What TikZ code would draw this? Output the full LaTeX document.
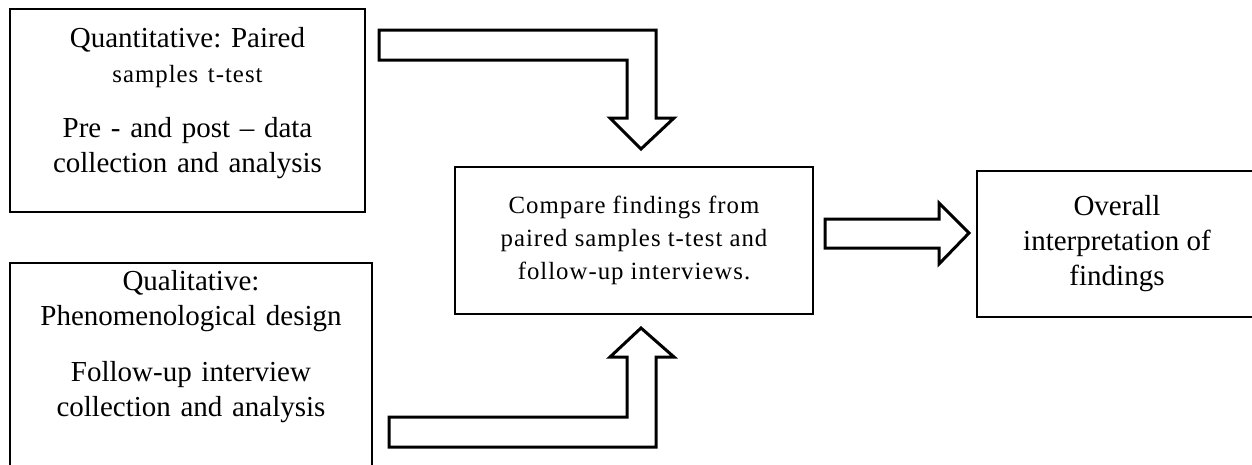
\documentclass[tikz,border=0pt]{standalone}
\usepackage{fontspec}
\setmainfont{Liberation Serif}
\newfontfamily\spacedfont[LetterSpace=4]{Liberation Serif}
\usetikzlibrary{calc}
\frenchspacing
\newcommand\bigsz{\fontsize{29}{35}\selectfont}
\newcommand\smallsz{\spacedfont\fontsize{24.8}{33}\selectfont}

\begin{document}
\begin{tikzpicture}[x=1pt,y=-1pt,
  box/.style={draw,line width=2pt,anchor=north west,inner sep=0pt},
  txt/.style={align=center,inner sep=0pt,font=\bigsz},
  fatarrow/.style={draw,line width=3pt,line join=miter,fill=white}]
\useasboundingbox (0,0) rectangle (1252,464);

% the four boxes
\node [box,minimum width=355pt,minimum height=203pt] (quant) at (9,8) {};
\node [box,minimum width=362pt,minimum height=212pt] (qual) at (9,262) {};
\node [box,minimum width=358pt,minimum height=147pt,align=center,font=\smallsz] (cmp) at (454,166)
  {Compare findings from\\paired samples t-test and\\follow-up interviews.};
\node [box,minimum width=280pt,minimum height=146pt,align=center,font=\bigsz] (overall) at (976,170)
  {Overall\\interpretation of\\findings};

% texts of the left boxes (anchor base = first line)
\node [txt,anchor=base,text width=340pt] (quanttxt) at ($(quant.north)+(0,39)$)
  {Quantitative: Paired\\{\smallsz samples t-test}\\[20pt]Pre - and post – data\\collection and analysis};
\node [txt,anchor=base,text width=340pt] (qualtxt) at ($(qual.north)+(0,28)$)
  {Qualitative:\\Phenomenological design\\[21pt]Follow-up interview\\collection and analysis};

% hollow arrows
\draw [fatarrow] ($(quant.north east)+(13,22)$) -- ++(277,0) -- ++(0,88) -- ++(18,0)
  -- ++(-33,31) -- ++(-31,-31) -- ++(17,0) -- ++(0,-58) -- ++(-248,0) -- cycle;
\draw [fatarrow] ($(qual.north east)+(16,185)$) -- ++(267,0) -- ++(0,-90) -- ++(18,0)
  -- ++(-33,-29) -- ++(-31,29) -- ++(17,0) -- ++(0,60) -- ++(-238,0) -- cycle;
\draw [fatarrow] ($(cmp.east)+(11,-21.5)$) -- ++(114,0) -- ++(0,-16) -- ++(30,30)
  -- ++(-30,31) -- ++(0,-16) -- ++(-114,0) -- cycle;
\end{tikzpicture}
\end{document}
